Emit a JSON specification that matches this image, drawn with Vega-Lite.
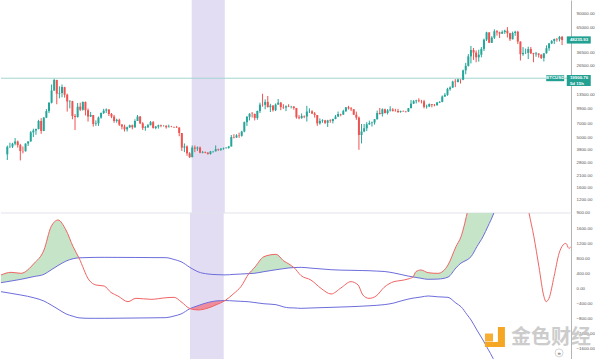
{
  "$schema": "https://vega.github.io/schema/vega-lite/v6.json",
  "padding": 0,
  "spacing": 0,
  "bounds": "flush",
  "background": "white",
  "config": {
    "view": {"stroke": null},
    "font": "Liberation Sans",
    "text": {"font": "Liberation Sans"},
    "axisY": {
      "grid": false, "ticks": false, "labelPadding": 5, "labelFontSize": 4.4, "labelFont": "Liberation Sans",
      "labelColor": "#555555", "domainColor": "#b4b4b4", "domainWidth": 1,
      "labelOverlap": false, "labelFlush": false, "labelBaseline": "middle", "labelAlign": "left"
    }
  },
  "datasets": {
    "band": [{"start": 70.8, "end": 83.5}],
    "tags": [
      {"price": 48235.93, "label": "48235.93"},
      {"price": 19900.76, "label": "19900.76", "sub": "5d 15h", "symbol": "BTCUSD"}
    ],
    "candles": [
      {"week":0,"open":3420,"high":4190,"low":3000,"close":4070},
      {"week":1,"open":4070,"high":4480,"low":3950,"close":4090},
      {"week":2,"open":4090,"high":4460,"low":3960,"close":4380},
      {"week":3,"open":4380,"high":4980,"low":4210,"close":4600},
      {"week":4,"open":4600,"high":4700,"low":4000,"close":4230},
      {"week":5,"open":4230,"high":4360,"low":2970,"close":3690},
      {"week":6,"open":3690,"high":4100,"low":3500,"close":3670},
      {"week":7,"open":3670,"high":4400,"low":3650,"close":4390},
      {"week":8,"open":4390,"high":4620,"low":4150,"close":4610},
      {"week":9,"open":4610,"high":5860,"low":4590,"close":5690},
      {"week":10,"open":5690,"high":6190,"low":5100,"close":5930},
      {"week":11,"open":5930,"high":6200,"low":5380,"close":6140},
      {"week":12,"open":6140,"high":7600,"low":6100,"close":7400},
      {"week":13,"open":7400,"high":7900,"low":5500,"close":5880},
      {"week":14,"open":5880,"high":8100,"low":5850,"close":8000},
      {"week":15,"open":8000,"high":9750,"low":7900,"close":9300},
      {"week":16,"open":9300,"high":11400,"low":8900,"close":11300},
      {"week":17,"open":11300,"high":17200,"low":11100,"close":15000},
      {"week":18,"open":15000,"high":19800,"low":14800,"close":19100},
      {"week":19,"open":19100,"high":19200,"low":10900,"close":13900},
      {"week":20,"open":13900,"high":16500,"low":12500,"close":14100},
      {"week":21,"open":14100,"high":17200,"low":12800,"close":16200},
      {"week":22,"open":16200,"high":16300,"low":12700,"close":13600},
      {"week":23,"open":13600,"high":13900,"low":9200,"close":11600},
      {"week":24,"open":11600,"high":12000,"low":9900,"close":11700},
      {"week":25,"open":11700,"high":11800,"low":7700,"close":8300},
      {"week":26,"open":8300,"high":8700,"low":6000,"close":8100},
      {"week":27,"open":8100,"high":11200,"low":8000,"close":10300},
      {"week":28,"open":10300,"high":11300,"low":9300,"close":9600},
      {"week":29,"open":9600,"high":11600,"low":9400,"close":11500},
      {"week":30,"open":11500,"high":11600,"low":8400,"close":9500},
      {"week":31,"open":9500,"high":9900,"low":7300,"close":8200},
      {"week":32,"open":8200,"high":9100,"low":8100,"close":8500},
      {"week":33,"open":8500,"high":8500,"low":6500,"close":6900},
      {"week":34,"open":6900,"high":7500,"low":6600,"close":7000},
      {"week":35,"open":7000,"high":8200,"low":6600,"close":8000},
      {"week":36,"open":8000,"high":9000,"low":7800,"close":8900},
      {"week":37,"open":8900,"high":9800,"low":8700,"close":9400},
      {"week":38,"open":9400,"high":9900,"low":8900,"close":9650},
      {"week":39,"open":9650,"high":9700,"low":8300,"close":8700},
      {"week":40,"open":8700,"high":8900,"low":7900,"close":8200},
      {"week":41,"open":8200,"high":8500,"low":7100,"close":7400},
      {"week":42,"open":7400,"high":7800,"low":7100,"close":7600},
      {"week":43,"open":7600,"high":7800,"low":6600,"close":6800},
      {"week":44,"open":6800,"high":6900,"low":6100,"close":6500},
      {"week":45,"open":6500,"high":6800,"low":5800,"close":6100},
      {"week":46,"open":6100,"high":6500,"low":5800,"close":6400},
      {"week":47,"open":6400,"high":6800,"low":6300,"close":6700},
      {"week":48,"open":6700,"high":6800,"low":6100,"close":6400},
      {"week":49,"open":6400,"high":7700,"low":6300,"close":7400},
      {"week":50,"open":7400,"high":8500,"low":7400,"close":8200},
      {"week":51,"open":8200,"high":8300,"low":6900,"close":7000},
      {"week":52,"open":7000,"high":7200,"low":6000,"close":6300},
      {"week":53,"open":6300,"high":6600,"low":5900,"close":6400},
      {"week":54,"open":6400,"high":6900,"low":6300,"close":6700},
      {"week":55,"open":6700,"high":7400,"low":6700,"close":7200},
      {"week":56,"open":7200,"high":7400,"low":6200,"close":6300},
      {"week":57,"open":6300,"high":6600,"low":6100,"close":6500},
      {"week":58,"open":6500,"high":6800,"low":6200,"close":6700},
      {"week":59,"open":6700,"high":6800,"low":6400,"close":6600},
      {"week":60,"open":6600,"high":6700,"low":6500,"close":6620},
      {"week":61,"open":6620,"high":6700,"low":6200,"close":6400},
      {"week":62,"open":6400,"high":6800,"low":6400,"close":6500},
      {"week":63,"open":6500,"high":6600,"low":6400,"close":6450},
      {"week":64,"open":6450,"high":6500,"low":6300,"close":6400},
      {"week":65,"open":6400,"high":6600,"low":6300,"close":6350},
      {"week":66,"open":6350,"high":6400,"low":5200,"close":5600},
      {"week":67,"open":5600,"high":5600,"low":3700,"close":4000},
      {"week":68,"open":4000,"high":4400,"low":3600,"close":4100},
      {"week":69,"open":4100,"high":4200,"low":3300,"close":3500},
      {"week":70,"open":3500,"high":3600,"low":3150,"close":3200},
      {"week":71,"open":3200,"high":4200,"low":3200,"close":4000},
      {"week":72,"open":4000,"high":4200,"low":3600,"close":3900},
      {"week":73,"open":3900,"high":4100,"low":3700,"close":4000},
      {"week":74,"open":4000,"high":4100,"low":3500,"close":3550},
      {"week":75,"open":3550,"high":3700,"low":3500,"close":3600},
      {"week":76,"open":3600,"high":3650,"low":3500,"close":3550},
      {"week":77,"open":3550,"high":3600,"low":3400,"close":3450},
      {"week":78,"open":3450,"high":3700,"low":3400,"close":3650},
      {"week":79,"open":3650,"high":3700,"low":3550,"close":3670},
      {"week":80,"open":3670,"high":4200,"low":3650,"close":3850},
      {"week":81,"open":3850,"high":3900,"low":3700,"close":3800},
      {"week":82,"open":3800,"high":3950,"low":3700,"close":3900},
      {"week":83,"open":3900,"high":4000,"low":3800,"close":3950},
      {"week":84,"open":3950,"high":4050,"low":3900,"close":3970},
      {"week":85,"open":3970,"high":4150,"low":3900,"close":4100},
      {"week":86,"open":4100,"high":5350,"low":4100,"close":5100},
      {"week":87,"open":5100,"high":5450,"low":4950,"close":5050},
      {"week":88,"open":5050,"high":5450,"low":5000,"close":5300},
      {"week":89,"open":5300,"high":5650,"low":5000,"close":5250},
      {"week":90,"open":5250,"high":5900,"low":5150,"close":5800},
      {"week":91,"open":5800,"high":7300,"low":5700,"close":7200},
      {"week":92,"open":7200,"high":8300,"low":6600,"close":8150},
      {"week":93,"open":8150,"high":8850,"low":7500,"close":8750},
      {"week":94,"open":8750,"high":9100,"low":8000,"close":8700},
      {"week":95,"open":8700,"high":8800,"low":7500,"close":7950},
      {"week":96,"open":7950,"high":9400,"low":7600,"close":9300},
      {"week":97,"open":9300,"high":11300,"low":8900,"close":10800},
      {"week":98,"open":10800,"high":13900,"low":10300,"close":10750},
      {"week":99,"open":10750,"high":12200,"low":9700,"close":11500},
      {"week":100,"open":11500,"high":13200,"low":10100,"close":10200},
      {"week":101,"open":10200,"high":11000,"low":9100,"close":10550},
      {"week":102,"open":10550,"high":10700,"low":9200,"close":9500},
      {"week":103,"open":9500,"high":11100,"low":9300,"close":10800},
      {"week":104,"open":10800,"high":12300,"low":10800,"close":11300},
      {"week":105,"open":11300,"high":11500,"low":9500,"close":10200},
      {"week":106,"open":10200,"high":10900,"low":9800,"close":10100},
      {"week":107,"open":10100,"high":10600,"low":9300,"close":10400},
      {"week":108,"open":10400,"high":10900,"low":10200,"close":10300},
      {"week":109,"open":10300,"high":10500,"low":9900,"close":10350},
      {"week":110,"open":10350,"high":10400,"low":9600,"close":10000},
      {"week":111,"open":10000,"high":10000,"low":7800,"close":8050},
      {"week":112,"open":8050,"high":8500,"low":7700,"close":7900},
      {"week":113,"open":7900,"high":8800,"low":7800,"close":8300},
      {"week":114,"open":8300,"high":8400,"low":7900,"close":8200},
      {"week":115,"open":8200,"high":10500,"low":7300,"close":9200},
      {"week":116,"open":9200,"high":9900,"low":8900,"close":9250},
      {"week":117,"open":9250,"high":9500,"low":8700,"close":8800},
      {"week":118,"open":8800,"high":9100,"low":8000,"close":8500},
      {"week":119,"open":8500,"high":8500,"low":6600,"close":7000},
      {"week":120,"open":7000,"high":7850,"low":6800,"close":7400},
      {"week":121,"open":7400,"high":7700,"low":7100,"close":7500},
      {"week":122,"open":7500,"high":7600,"low":6900,"close":7100},
      {"week":123,"open":7100,"high":7600,"low":6450,"close":7500},
      {"week":124,"open":7500,"high":7700,"low":7100,"close":7400},
      {"week":125,"open":7400,"high":7800,"low":7000,"close":7750},
      {"week":126,"open":7750,"high":8500,"low":7700,"close":8200},
      {"week":127,"open":8200,"high":9200,"low":8100,"close":8700},
      {"week":128,"open":8700,"high":8750,"low":8250,"close":8600},
      {"week":129,"open":8600,"high":9600,"low":8500,"close":9300},
      {"week":130,"open":9300,"high":10200,"low":9100,"close":10150},
      {"week":131,"open":10150,"high":10500,"low":9650,"close":9900},
      {"week":132,"open":9900,"high":10200,"low":9300,"close":9700},
      {"week":133,"open":9700,"high":9750,"low":8500,"close":8550},
      {"week":134,"open":8550,"high":9200,"low":7600,"close":8000},
      {"week":135,"open":8000,"high":8200,"low":3800,"close":5350},
      {"week":136,"open":5350,"high":6900,"low":4400,"close":5800},
      {"week":137,"open":5800,"high":6900,"low":5700,"close":6250},
      {"week":138,"open":6250,"high":7200,"low":5850,"close":6850},
      {"week":139,"open":6850,"high":7450,"low":6750,"close":7050},
      {"week":140,"open":7050,"high":7300,"low":6500,"close":7150},
      {"week":141,"open":7150,"high":7750,"low":6800,"close":7700},
      {"week":142,"open":7700,"high":9400,"low":7650,"close":8900},
      {"week":143,"open":8900,"high":10000,"low":8600,"close":8700},
      {"week":144,"open":8700,"high":9900,"low":8200,"close":9700},
      {"week":145,"open":9700,"high":9850,"low":8800,"close":8900},
      {"week":146,"open":8900,"high":9750,"low":8600,"close":9450},
      {"week":147,"open":9450,"high":10400,"low":9200,"close":9650},
      {"week":148,"open":9650,"high":9950,"low":9200,"close":9350},
      {"week":149,"open":9350,"high":9800,"low":9200,"close":9300},
      {"week":150,"open":9300,"high":9800,"low":8900,"close":9100},
      {"week":151,"open":9100,"high":9400,"low":8950,"close":9300},
      {"week":152,"open":9300,"high":9450,"low":9150,"close":9250},
      {"week":153,"open":9250,"high":9350,"low":9000,"close":9200},
      {"week":154,"open":9200,"high":10000,"low":9100,"close":9950},
      {"week":155,"open":9950,"high":12000,"low":9950,"close":11050},
      {"week":156,"open":11050,"high":12000,"low":10950,"close":11700},
      {"week":157,"open":11700,"high":12100,"low":11100,"close":11900},
      {"week":158,"open":11900,"high":12500,"low":11400,"close":11700},
      {"week":159,"open":11700,"high":12050,"low":11100,"close":11650},
      {"week":160,"open":11650,"high":12050,"low":9900,"close":10250},
      {"week":161,"open":10250,"high":10800,"low":9850,"close":10350},
      {"week":162,"open":10350,"high":11100,"low":10200,"close":10950},
      {"week":163,"open":10950,"high":10950,"low":10150,"close":10750},
      {"week":164,"open":10750,"high":10950,"low":10400,"close":10650},
      {"week":165,"open":10650,"high":11500,"low":10550,"close":11350},
      {"week":166,"open":11350,"high":11700,"low":11200,"close":11500},
      {"week":167,"open":11500,"high":13350,"low":11400,"close":13050},
      {"week":168,"open":13050,"high":14100,"low":12900,"close":13550},
      {"week":169,"open":13550,"high":15950,"low":13250,"close":15450},
      {"week":170,"open":15450,"high":16500,"low":14900,"close":16050},
      {"week":171,"open":16050,"high":18800,"low":15850,"close":18400},
      {"week":172,"open":18400,"high":19500,"low":16200,"close":18200},
      {"week":173,"open":18200,"high":19900,"low":18100,"close":19350},
      {"week":174,"open":19350,"high":19400,"low":17600,"close":19200},
      {"week":175,"open":19200,"high":24300,"low":19000,"close":23850},
      {"week":176,"open":23850,"high":28400,"low":21800,"close":26500},
      {"week":177,"open":26500,"high":34800,"low":26100,"close":33000},
      {"week":178,"open":33000,"high":41950,"low":28000,"close":38200},
      {"week":179,"open":38200,"high":40100,"low":30400,"close":36000},
      {"week":180,"open":36000,"high":37850,"low":28800,"close":32300},
      {"week":181,"open":32300,"high":38500,"low":29200,"close":34300},
      {"week":182,"open":34300,"high":40900,"low":32300,"close":39200},
      {"week":183,"open":39200,"high":49700,"low":37400,"close":48600},
      {"week":184,"open":48600,"high":58300,"low":47000,"close":57500},
      {"week":185,"open":57500,"high":57500,"low":44900,"close":45200},
      {"week":186,"open":45200,"high":52600,"low":45000,"close":51000},
      {"week":187,"open":51000,"high":61700,"low":49300,"close":59000},
      {"week":188,"open":59000,"high":60600,"low":53300,"close":57500},
      {"week":189,"open":57500,"high":58400,"low":50400,"close":55800},
      {"week":190,"open":55800,"high":60200,"low":55500,"close":57950},
      {"week":191,"open":57950,"high":61200,"low":55500,"close":59800},
      {"week":192,"open":59800,"high":64900,"low":51000,"close":56200},
      {"week":193,"open":56200,"high":57000,"low":47100,"close":49100},
      {"week":194,"open":49100,"high":58500,"low":48800,"close":56600},
      {"week":195,"open":56600,"high":59600,"low":53000,"close":58300},
      {"week":196,"open":58300,"high":59600,"low":43900,"close":46500},
      {"week":197,"open":46500,"high":46600,"low":30000,"close":34700},
      {"week":198,"open":34700,"high":40900,"low":33400,"close":35700},
      {"week":199,"open":35700,"high":39500,"low":34800,"close":35800},
      {"week":200,"open":35800,"high":41300,"low":31000,"close":39100},
      {"week":201,"open":39100,"high":41000,"low":34800,"close":35500},
      {"week":202,"open":35500,"high":35800,"low":28800,"close":34700},
      {"week":203,"open":34700,"high":36600,"low":32700,"close":35300},
      {"week":204,"open":35300,"high":35300,"low":32100,"close":34250},
      {"week":205,"open":34250,"high":34700,"low":31000,"close":31800},
      {"week":206,"open":31800,"high":35400,"low":29300,"close":35400},
      {"week":207,"open":35400,"high":42600,"low":35200,"close":39850},
      {"week":208,"open":39850,"high":44700,"low":37500,"close":44600},
      {"week":209,"open":44600,"high":48100,"low":43800,"close":47000},
      {"week":210,"open":47000,"high":49800,"low":43900,"close":49300},
      {"week":211,"open":49300,"high":50500,"low":46300,"close":48900},
      {"week":212,"open":48900,"high":52900,"low":46600,"close":51800},
      {"week":213,"open":51800,"high":52900,"low":42800,"close":48235.93}
    ],
    "ind": [
      {"t":-0.5,"osc":347,"upper":142,"lower":-98,"zone":"g1"},
      {"t":3.3,"osc":418,"upper":186,"lower":-142,"zone":"g1"},
      {"t":7.0,"osc":392,"upper":231,"lower":-187,"zone":"g1"},
      {"t":12.0,"osc":658,"upper":306,"lower":-262,"zone":"g1"},
      {"t":15.7,"osc":1013,"upper":364,"lower":-347,"zone":"g1"},
      {"t":18.4,"osc":1635,"upper":483,"lower":-453,"zone":"g1"},
      {"t":21.0,"osc":1813,"upper":599,"lower":-563,"zone":"g1"},
      {"t":24.0,"osc":1547,"upper":717,"lower":-689,"zone":"g1"},
      {"t":26.7,"osc":1102,"upper":781,"lower":-754,"zone":"g1"},
      {"t":28.9,"osc":805,"upper":805,"lower":-795,"zone":"g1"},
      {"t":32.7,"osc":213,"upper":813,"lower":-808},
      {"t":35.3,"osc":80,"upper":817,"lower":-808},
      {"t":38.4,"osc":53,"upper":818,"lower":-808},
      {"t":41.0,"osc":-120,"upper":817,"lower":-807},
      {"t":43.6,"osc":-213,"upper":816,"lower":-805},
      {"t":47.4,"osc":-364,"upper":815,"lower":-802},
      {"t":50.4,"osc":-275,"upper":814,"lower":-800},
      {"t":56.1,"osc":-302,"upper":811,"lower":-796},
      {"t":61.7,"osc":-260,"upper":809,"lower":-791},
      {"t":64.8,"osc":-249,"upper":760,"lower":-746},
      {"t":67.4,"osc":-364,"upper":702,"lower":-693},
      {"t":70.8,"osc":-550,"upper":548,"lower":-550,"zone":"r1"},
      {"t":73.8,"osc":-585,"upper":433,"lower":-470,"zone":"r1"},
      {"t":77.6,"osc":-535,"upper":373,"lower":-385,"zone":"r1"},
      {"t":80.6,"osc":-450,"upper":357,"lower":-345,"zone":"r1"},
      {"t":84.0,"osc":-335,"upper":349,"lower":-335,"zone":"r1"},
      {"t":87.4,"osc":-142,"upper":364,"lower":-345},
      {"t":90.0,"osc":36,"upper":373,"lower":-355},
      {"t":93.0,"osc":384,"upper":384,"lower":-367,"zone":"g2"},
      {"t":94.9,"osc":524,"upper":391,"lower":-385,"zone":"g2"},
      {"t":98.7,"osc":836,"upper":436,"lower":-420,"zone":"g2"},
      {"t":103.2,"osc":898,"upper":487,"lower":-444,"zone":"g2"},
      {"t":106.2,"osc":720,"upper":517,"lower":-506,"zone":"g2"},
      {"t":108.1,"osc":640,"upper":535,"lower":-528,"zone":"g2"},
      {"t":110.0,"osc":545,"upper":545,"lower":-531,"zone":"g2"},
      {"t":112.7,"osc":330,"upper":551,"lower":-542},
      {"t":116.4,"osc":213,"upper":530,"lower":-533},
      {"t":120.2,"osc":-9,"upper":509,"lower":-524},
      {"t":124.0,"osc":-160,"upper":488,"lower":-516},
      {"t":127.7,"osc":0,"upper":477,"lower":-507},
      {"t":131.5,"osc":169,"upper":472,"lower":-498},
      {"t":134.2,"osc":80,"upper":468,"lower":-490},
      {"t":136.0,"osc":-187,"upper":465,"lower":-483},
      {"t":138.3,"osc":-276,"upper":461,"lower":-474},
      {"t":141.0,"osc":-213,"upper":452,"lower":-463},
      {"t":144.0,"osc":18,"upper":441,"lower":-444},
      {"t":147.7,"osc":169,"upper":401,"lower":-400},
      {"t":150.4,"osc":200,"upper":360,"lower":-345},
      {"t":153.0,"osc":240,"upper":320,"lower":-297},
      {"t":154.9,"osc":294,"upper":294,"lower":-270,"zone":"g3"},
      {"t":156.0,"osc":436,"upper":281,"lower":-259,"zone":"g3"},
      {"t":157.9,"osc":480,"upper":260,"lower":-240,"zone":"g3"},
      {"t":160.6,"osc":409,"upper":231,"lower":-213,"zone":"g3"},
      {"t":164.3,"osc":391,"upper":238,"lower":-235,"zone":"g3"},
      {"t":168.1,"osc":613,"upper":290,"lower":-249,"zone":"g3"},
      {"t":171.1,"osc":1102,"upper":535,"lower":-402,"zone":"g3"},
      {"t":173.0,"osc":1368,"upper":665,"lower":-498,"zone":"g3"},
      {"t":175.3,"osc":1991,"upper":750,"lower":-711,"zone":"g3"},
      {"t":176.8,"osc":2500,"upper":836,"lower":-853,"zone":"g3"},
      {"t":179.0,"osc":3000,"upper":1102,"lower":-1120,"zone":"g3"},
      {"t":181.3,"osc":3300,"upper":1368,"lower":-1387,"zone":"g3"},
      {"t":183.2,"osc":3600,"upper":1650,"lower":-1630,"zone":"g3"},
      {"t":185.1,"osc":3800,"upper":1947,"lower":-1875,"zone":"g3"},
      {"t":188.1,"osc":4000,"upper":2600,"lower":-2400,"zone":"g3"},
      {"t":192.6,"osc":3700,"upper":3700,"lower":-3000,"zone":"g3"},
      {"t":195.6,"osc":3200,"upper":4500,"lower":-3500},
      {"t":197.9,"osc":2300,"upper":5100,"lower":-3740},
      {"t":198.7,"osc":1991,"upper":5300,"lower":-3820},
      {"t":200.5,"osc":1368,"upper":5800,"lower":-4020},
      {"t":202.4,"osc":569,"upper":6100,"lower":-4220},
      {"t":204.3,"osc":-231,"upper":6400,"lower":-4420},
      {"t":205.1,"osc":-364,"upper":6500,"lower":-4500},
      {"t":206.2,"osc":-276,"upper":6550,"lower":-4560},
      {"t":208.1,"osc":302,"upper":6650,"lower":-4660},
      {"t":210.0,"osc":924,"upper":6750,"lower":-4760},
      {"t":211.5,"osc":1147,"upper":6830,"lower":-4840},
      {"t":212.6,"osc":1191,"upper":6900,"lower":-4900},
      {"t":213.7,"osc":1058,"upper":6960,"lower":-4960},
      {"t":214.5,"osc":1102,"upper":7000,"lower":-5000}
    ]
  },
  "vconcat": [
    {
      "width": 570,
      "height": 213,
      "layer": [
        {
          "data": {"name": "band"},
          "mark": {"type": "rect", "color": "#e3ddf3"},
          "encoding": {
            "x": {"field": "start", "type": "quantitative", "scale": {"domain": [-0.5, 214.5], "nice": false, "zero": false}, "axis": null},
            "x2": {"field": "end"}
          }
        },
        {
          "data": {"name": "candles"},
          "mark": {"type": "rule", "strokeWidth": 1},
          "encoding": {
            "x": {"field": "week", "type": "quantitative", "scale": {"domain": [-0.5, 214.5], "nice": false, "zero": false}, "axis": null},
            "y": {"field": "low", "type": "quantitative", "scale": {"type": "log", "domain": [880, 121600], "nice": false, "zero": false},
              "axis": {"orient": "right", "title": null, "format": ".2f", "values": [900, 1200, 1600, 2100, 2800, 3800, 5000, 7000, 9900, 13500, 26500, 36500, 65000, 90000]}},
            "y2": {"field": "high"},
            "color": {"condition": {"test": "datum.close >= datum.open", "value": "#26a69a"}, "value": "#ef5350"}
          }
        },
        {
          "data": {"values": [{}]},
          "mark": {"type": "rule", "color": "#a3d6cf", "strokeWidth": 1},
          "encoding": {
            "y": {"datum": 19900.76, "type": "quantitative", "scale": {"type": "log", "domain": [880, 121600], "nice": false, "zero": false},
              "axis": {"orient": "right", "title": null, "format": ".2f", "values": [900, 1200, 1600, 2100, 2800, 3800, 5000, 7000, 9900, 13500, 26500, 36500, 65000, 90000]}}
          }
        },
        {
          "data": {"name": "candles"},
          "mark": {"type": "bar", "width": 2},
          "encoding": {
            "x": {"field": "week", "type": "quantitative", "scale": {"domain": [-0.5, 214.5], "nice": false, "zero": false}, "axis": null},
            "y": {"field": "open", "type": "quantitative", "scale": {"type": "log", "domain": [880, 121600], "nice": false, "zero": false},
              "axis": {"orient": "right", "title": null, "format": ".2f", "values": [900, 1200, 1600, 2100, 2800, 3800, 5000, 7000, 9900, 13500, 26500, 36500, 65000, 90000]}},
            "y2": {"field": "close"},
            "color": {"condition": {"test": "datum.close >= datum.open", "value": "#26a69a"}, "value": "#ef5350"}
          }
        },
        {
          "data": {"name": "tags"},
          "transform": [{"filter": "!datum.sub"}],
          "mark": {"type": "point", "filled": true, "opacity": 1, "color": "#22a193", "shape": "M-1,-0.3L1,-0.3L1,0.3L-1,0.3Z", "size": 576},
          "encoding": {
            "x": {"datum": 219.4, "type": "quantitative", "scale": {"domain": [-0.5, 214.5], "nice": false, "zero": false}, "axis": null},
            "y": {"field": "price", "type": "quantitative", "scale": {"type": "log", "domain": [880, 121600], "nice": false, "zero": false},
              "axis": {"orient": "right", "title": null, "format": ".2f", "values": [900, 1200, 1600, 2100, 2800, 3800, 5000, 7000, 9900, 13500, 26500, 36500, 65000, 90000]}}
          }
        },
        {
          "data": {"name": "tags"},
          "transform": [{"filter": "datum.sub"}],
          "mark": {"type": "point", "filled": true, "opacity": 1, "color": "#22a193", "shape": "M-1,-0.27L1,-0.27L1,0.65L-1,0.65Z", "size": 576},
          "encoding": {
            "x": {"datum": 219.4, "type": "quantitative", "scale": {"domain": [-0.5, 214.5], "nice": false, "zero": false}, "axis": null},
            "y": {"field": "price", "type": "quantitative", "scale": {"type": "log", "domain": [880, 121600], "nice": false, "zero": false},
              "axis": {"orient": "right", "title": null, "format": ".2f", "values": [900, 1200, 1600, 2100, 2800, 3800, 5000, 7000, 9900, 13500, 26500, 36500, 65000, 90000]}}
          }
        },
        {
          "data": {"name": "tags"},
          "transform": [{"filter": "datum.symbol"}],
          "mark": {"type": "point", "filled": true, "opacity": 1, "color": "#22a193", "shape": "M-1,-0.33L1,-0.33L1,0.33L-1,0.33Z", "size": 324},
          "encoding": {
            "x": {"datum": 210.35, "type": "quantitative", "scale": {"domain": [-0.5, 214.5], "nice": false, "zero": false}, "axis": null},
            "y": {"field": "price", "type": "quantitative", "scale": {"type": "log", "domain": [880, 121600], "nice": false, "zero": false},
              "axis": {"orient": "right", "title": null, "format": ".2f", "values": [900, 1200, 1600, 2100, 2800, 3800, 5000, 7000, 9900, 13500, 26500, 36500, 65000, 90000]}}
          }
        },
        {
          "data": {"name": "tags"},
          "mark": {"type": "text", "align": "left", "baseline": "middle", "fontSize": 4.4, "fontWeight": "bold", "color": "white"},
          "encoding": {
            "x": {"datum": 216.0, "type": "quantitative", "scale": {"domain": [-0.5, 214.5], "nice": false, "zero": false}, "axis": null},
            "y": {"field": "price", "type": "quantitative", "scale": {"type": "log", "domain": [880, 121600], "nice": false, "zero": false},
              "axis": {"orient": "right", "title": null, "format": ".2f", "values": [900, 1200, 1600, 2100, 2800, 3800, 5000, 7000, 9900, 13500, 26500, 36500, 65000, 90000]}},
            "text": {"field": "label"}
          }
        },
        {
          "data": {"name": "tags"},
          "transform": [{"filter": "datum.sub"}],
          "mark": {"type": "text", "align": "left", "baseline": "middle", "fontSize": 4.4, "fontWeight": "bold", "color": "white", "dy": 5.3},
          "encoding": {
            "x": {"datum": 216.0, "type": "quantitative", "scale": {"domain": [-0.5, 214.5], "nice": false, "zero": false}, "axis": null},
            "y": {"field": "price", "type": "quantitative", "scale": {"type": "log", "domain": [880, 121600], "nice": false, "zero": false},
              "axis": {"orient": "right", "title": null, "format": ".2f", "values": [900, 1200, 1600, 2100, 2800, 3800, 5000, 7000, 9900, 13500, 26500, 36500, 65000, 90000]}},
            "text": {"field": "sub"}
          }
        },
        {
          "data": {"name": "tags"},
          "transform": [{"filter": "datum.symbol"}],
          "mark": {"type": "text", "align": "center", "baseline": "middle", "fontSize": 4.4, "fontWeight": "bold", "color": "white"},
          "encoding": {
            "x": {"datum": 210.35, "type": "quantitative", "scale": {"domain": [-0.5, 214.5], "nice": false, "zero": false}, "axis": null},
            "y": {"field": "price", "type": "quantitative", "scale": {"type": "log", "domain": [880, 121600], "nice": false, "zero": false},
              "axis": {"orient": "right", "title": null, "format": ".2f", "values": [900, 1200, 1600, 2100, 2800, 3800, 5000, 7000, 9900, 13500, 26500, 36500, 65000, 90000]}},
            "text": {"field": "symbol"}
          }
        }
      ]
    },
    {
      "width": 570,
      "height": 146,
      "layer": [
        {
          "data": {"name": "band"},
          "mark": {"type": "rect", "color": "#e3ddf3"},
          "encoding": {
            "x": {"field": "start", "type": "quantitative", "scale": {"domain": [-0.5, 214.5], "nice": false, "zero": false}, "axis": null},
            "x2": {"field": "end"}
          }
        },
        {
          "data": {"values": [{}]},
          "mark": {"type": "rule", "color": "#e0e3eb", "strokeWidth": 1},
          "encoding": {
            "y": {"datum": 2000, "type": "quantitative", "scale": {"domain": [-1893, 2000], "nice": false, "zero": false},
              "axis": {"orient": "right", "title": null, "format": ".2f", "values": [-1600, -1200, -800, -400, 0, 400, 800, 1200, 1600]}}
          }
        },
        {
          "data": {"name": "ind"},
          "transform": [{"filter": "datum.zone == 'g1' || datum.zone == 'g2' || datum.zone == 'g3'"}],
          "mark": {"type": "area", "interpolate": "monotone", "color": "#c6e4c7", "opacity": 1, "clip": true},
          "encoding": {
            "x": {"field": "t", "type": "quantitative", "scale": {"domain": [-0.5, 214.5], "nice": false, "zero": false}, "axis": null},
            "y": {"field": "osc", "type": "quantitative", "scale": {"domain": [-1893, 2000], "nice": false, "zero": false},
              "axis": {"orient": "right", "title": null, "format": ".2f", "values": [-1600, -1200, -800, -400, 0, 400, 800, 1200, 1600]}},
            "y2": {"field": "upper"},
            "detail": {"field": "zone"}
          }
        },
        {
          "data": {"name": "ind"},
          "transform": [{"filter": "datum.zone == 'r1'"}],
          "mark": {"type": "area", "interpolate": "monotone", "color": "#ee8c9e", "opacity": 1, "clip": true},
          "encoding": {
            "x": {"field": "t", "type": "quantitative", "scale": {"domain": [-0.5, 214.5], "nice": false, "zero": false}, "axis": null},
            "y": {"field": "osc", "type": "quantitative", "scale": {"domain": [-1893, 2000], "nice": false, "zero": false},
              "axis": {"orient": "right", "title": null, "format": ".2f", "values": [-1600, -1200, -800, -400, 0, 400, 800, 1200, 1600]}},
            "y2": {"field": "lower"}
          }
        },
        {
          "data": {"name": "ind"},
          "mark": {"type": "line", "interpolate": "monotone", "color": "#6d6ddc", "strokeWidth": 1, "clip": true},
          "encoding": {
            "x": {"field": "t", "type": "quantitative", "scale": {"domain": [-0.5, 214.5], "nice": false, "zero": false}, "axis": null},
            "y": {"field": "upper", "type": "quantitative", "scale": {"domain": [-1893, 2000], "nice": false, "zero": false},
              "axis": {"orient": "right", "title": null, "format": ".2f", "values": [-1600, -1200, -800, -400, 0, 400, 800, 1200, 1600]}}
          }
        },
        {
          "data": {"name": "ind"},
          "mark": {"type": "line", "interpolate": "monotone", "color": "#6d6ddc", "strokeWidth": 1, "clip": true},
          "encoding": {
            "x": {"field": "t", "type": "quantitative", "scale": {"domain": [-0.5, 214.5], "nice": false, "zero": false}, "axis": null},
            "y": {"field": "lower", "type": "quantitative", "scale": {"domain": [-1893, 2000], "nice": false, "zero": false},
              "axis": {"orient": "right", "title": null, "format": ".2f", "values": [-1600, -1200, -800, -400, 0, 400, 800, 1200, 1600]}}
          }
        },
        {
          "data": {"name": "ind"},
          "mark": {"type": "line", "interpolate": "monotone", "color": "#f06464", "strokeWidth": 1, "clip": true},
          "encoding": {
            "x": {"field": "t", "type": "quantitative", "scale": {"domain": [-0.5, 214.5], "nice": false, "zero": false}, "axis": null},
            "y": {"field": "osc", "type": "quantitative", "scale": {"domain": [-1893, 2000], "nice": false, "zero": false},
              "axis": {"orient": "right", "title": null, "format": ".2f", "values": [-1600, -1200, -800, -400, 0, 400, 800, 1200, 1600]}}
          }
        },
        {
          "data": {"values": [{}]},
          "mark": {"type": "point", "filled": true, "opacity": 1, "color": "#f5a623", "shape": "M0.3,-1L1,-1L1,1L-1,1L-1,0.5L0.3,0.5Z", "size": 400},
          "encoding": {
            "x": {"datum": 185.8, "type": "quantitative", "scale": {"domain": [-0.5, 214.5], "nice": false, "zero": false}, "axis": null},
            "y": {"datum": -1306, "type": "quantitative", "scale": {"domain": [-1893, 2000], "nice": false, "zero": false},
              "axis": {"orient": "right", "title": null, "format": ".2f", "values": [-1600, -1200, -800, -400, 0, 400, 800, 1200, 1600]}}
          }
        },
        {
          "data": {"values": [{}]},
          "mark": {"type": "point", "filled": true, "opacity": 1, "color": "#f7ae35", "shape": "square", "size": 64},
          "encoding": {
            "x": {"datum": 183.57, "type": "quantitative", "scale": {"domain": [-0.5, 214.5], "nice": false, "zero": false}, "axis": null},
            "y": {"datum": -1320, "type": "quantitative", "scale": {"domain": [-1893, 2000], "nice": false, "zero": false},
              "axis": {"orient": "right", "title": null, "format": ".2f", "values": [-1600, -1200, -800, -400, 0, 400, 800, 1200, 1600]}}
          }
        },
        {
          "data": {"values": [{}]},
          "mark": {"type": "text", "align": "center", "baseline": "middle", "fontSize": 20, "font": "Noto Sans CJK SC", "fontWeight": "bold", "color": "#c4c4c4", "opacity": 0.85},
          "encoding": {
            "x": {"datum": 206.96, "type": "quantitative", "scale": {"domain": [-0.5, 214.5], "nice": false, "zero": false}, "axis": null},
            "y": {"datum": -1320, "type": "quantitative", "scale": {"domain": [-1893, 2000], "nice": false, "zero": false},
              "axis": {"orient": "right", "title": null, "format": ".2f", "values": [-1600, -1200, -800, -400, 0, 400, 800, 1200, 1600]}},
            "text": {"value": "金色财经"}
          }
        },
        {
          "data": {"values": [{}]},
          "mark": {"type": "point", "filled": true, "opacity": 1, "fill": "#ffffff", "stroke": "#d4d4d4", "strokeWidth": 1, "shape": "circle", "size": 64},
          "encoding": {
            "x": {"datum": 210.0, "type": "quantitative", "scale": {"domain": [-0.5, 214.5], "nice": false, "zero": false}, "axis": null},
            "y": {"datum": -1730, "type": "quantitative", "scale": {"domain": [-1893, 2000], "nice": false, "zero": false},
              "axis": {"orient": "right", "title": null, "format": ".2f", "values": [-1600, -1200, -800, -400, 0, 400, 800, 1200, 1600]}}
          }
        },
        {
          "data": {"values": [{}]},
          "mark": {"type": "text", "align": "center", "baseline": "middle", "fontSize": 6, "color": "#444444"},
          "encoding": {
            "x": {"datum": 210.0, "type": "quantitative", "scale": {"domain": [-0.5, 214.5], "nice": false, "zero": false}, "axis": null},
            "y": {"datum": -1730, "type": "quantitative", "scale": {"domain": [-1893, 2000], "nice": false, "zero": false},
              "axis": {"orient": "right", "title": null, "format": ".2f", "values": [-1600, -1200, -800, -400, 0, 400, 800, 1200, 1600]}},
            "text": {"value": "»"}
          }
        }
      ]
    }
  ]
}
